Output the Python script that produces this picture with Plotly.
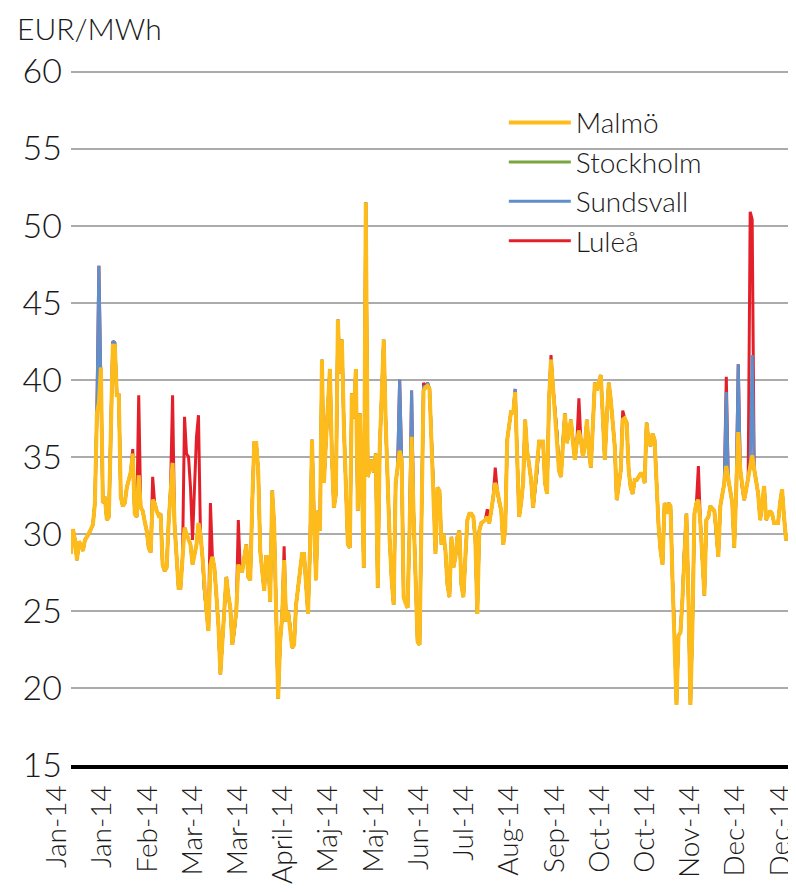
import plotly.graph_objects as go

# Day index 0..364 of 2014
malmo = [
    28.7, 30.3, 29.6, 28.3, 29.5, 29.3, 28.9, 29.6, 29.8, 30.0,
    30.3, 30.6, 32.0, 37.8, 38.5, 40.8, 32.0, 32.4, 30.9, 31.1,
    36.0, 42.2, 42.2, 39.0, 39.0, 32.4, 31.8, 32.0, 33.0, 33.5,
    34.0, 35.2, 31.3, 31.1, 33.8, 31.7, 31.5, 30.8, 30.2, 29.1,
    28.8, 32.2, 32.0, 31.5, 31.2, 31.3, 28.0, 27.6, 27.8, 30.7,
    33.0, 34.6, 30.6, 28.5, 26.5, 26.5, 28.5, 30.4, 30.0, 29.6,
    29.3, 28.0, 28.7, 29.3, 30.7, 30.0, 28.5, 26.3, 25.0, 23.7,
    28.0, 28.5, 27.8, 26.0, 24.1, 20.9, 23.0, 25.2, 27.2, 26.0,
    25.2, 22.8, 23.7, 25.0, 28.0, 27.6, 27.6, 28.5, 29.3, 27.2,
    27.0, 32.0, 35.9, 35.9, 34.1, 28.9, 27.5, 26.3, 28.5, 28.5,
    25.6, 32.8, 30.6, 25.0, 19.3, 23.0, 24.6, 28.3, 24.3, 25.0,
    24.0, 22.6, 22.8, 25.4, 26.5, 27.4, 28.7, 28.7, 27.0, 24.8,
    29.0, 36.1, 31.0, 27.0, 31.5, 30.2, 41.3, 33.3, 36.0, 38.7,
    40.7, 35.0, 31.7, 32.6, 43.9, 40.4, 42.6, 37.0, 33.0, 29.3,
    29.1, 39.1, 37.5, 40.7, 31.5, 37.8, 33.7, 27.8, 51.5, 33.7,
    34.2, 34.8, 34.0, 35.2, 26.5, 35.6, 39.0, 42.6, 37.2, 33.0,
    29.6, 27.0, 25.4, 33.3, 34.3, 35.4, 34.8, 25.9, 25.5, 25.2,
    30.4, 36.3, 31.3, 26.5, 23.0, 22.8, 30.0, 39.3, 39.5, 39.6,
    39.4, 36.3, 32.8, 28.7, 33.0, 32.8, 29.3, 30.0, 28.9, 26.7,
    25.9, 29.8, 27.8, 28.5, 29.8, 30.2, 26.7, 25.9, 28.5, 30.9,
    31.3, 31.3, 31.1, 29.6, 24.8, 30.2, 30.7, 30.8, 30.9, 31.1,
    30.7, 31.5, 32.4, 33.3, 32.8, 32.0, 31.5, 29.3, 30.2, 36.1,
    37.0, 38.0, 37.8, 39.2, 35.0, 31.1, 32.0, 33.3, 37.4, 35.4,
    34.5, 33.5, 31.7, 33.0, 34.1, 36.0, 36.0, 36.0, 33.3, 32.6,
    38.7, 41.3, 39.5, 37.8, 36.5, 34.1, 33.7, 36.0, 37.8, 35.9,
    36.5, 37.4, 35.9, 34.8, 36.0, 36.7, 36.1, 35.0, 35.7, 37.4,
    35.4, 34.3, 37.0, 39.8, 39.3, 39.8, 40.3, 37.6, 34.8, 37.5,
    39.8, 38.7, 37.0, 35.7, 32.2, 33.0, 34.1, 37.4, 37.5, 37.2,
    34.1, 33.0, 32.6, 33.5, 33.5, 33.7, 33.9, 33.9, 33.3, 37.2,
    36.0, 35.7, 36.5, 36.1, 32.8, 30.5, 28.9, 28.0, 32.0, 31.3,
    32.0, 31.8, 27.0, 23.6, 18.9, 23.4, 23.6, 25.8, 29.0, 31.3,
    25.8, 18.9, 24.0, 31.3, 32.0, 32.2, 30.7, 28.0, 26.0, 30.9,
    31.1, 31.8, 31.6, 31.5, 30.2, 28.5, 31.8, 32.5, 33.3, 34.4,
    33.5, 32.8, 32.0, 29.1, 33.0, 36.6, 34.2, 33.0, 32.2, 32.9,
    33.7, 34.4, 35.1, 34.2, 33.5, 32.6, 30.9, 31.8, 33.1, 30.9,
    31.2, 31.5, 31.3, 30.7, 30.7, 30.7, 32.0, 32.9, 31.1, 29.6,
    29.8, 29.8, 29.8, 30.0, 31.2,
]

# Days where the other areas differ from Malmö (day index: price)
stockholm_diff = {}
sundsvall_diff = {14: 47.4, 21: 42.5, 22: 42.4, 165: 40.0, 171: 39.3,
                  177: 39.6, 179: 39.8, 223: 39.4, 329: 39.2, 335: 41.0,
                  342: 41.6}
lulea_diff = {31: 35.5, 34: 39.0, 41: 33.7, 51: 39.0, 57: 37.6, 58: 35.2,
              59: 35.0, 60: 33.0, 61: 29.6, 62: 33.0, 63: 36.3, 64: 37.7,
              70: 32.0, 84: 30.9, 107: 29.2, 177: 39.8, 209: 31.6,
              213: 34.3, 241: 41.6, 255: 38.8, 277: 38.0, 315: 34.4,
              329: 40.2, 335: 41.0, 341: 50.9, 342: 50.4}

tick_labels = ["Jan-14", "Jan-14", "Feb-14", "Mar-14", "Mar-14", "April-14",
               "Maj-14", "Maj-14", "Jun-14", "Jul-14", "Aug-14", "Sep-14",
               "Oct-14", "Oct-14", "Nov-14", "Dec-14", "Dec-14"]

days = list(range(len(malmo)))
stockholm = [stockholm_diff.get(d, v) for d, v in zip(days, malmo)]
sundsvall = [sundsvall_diff.get(d, v) for d, v in zip(days, malmo)]
lulea = [lulea_diff.get(d, v) for d, v in zip(days, sundsvall)]

FONT = "Lato"
TXT = "#1a1a1a"
W = 300
fig = go.Figure()
series = [
    ("Luleå", lulea, "#E3202A", 3),
    ("Sundsvall", sundsvall, "#5E8FCB", 3),
    ("Stockholm", stockholm, "#7BA541", 3),
    ("Malmö", malmo, "#FDBB1C", 4),
]
for name, vals, col, w in series:
    fig.add_trace(go.Scatter(x=days, y=vals, mode="lines", name=name,
                             line=dict(color=col, width=w)))

n = len(tick_labels)
step = (len(malmo) - 1) / (n - 1)
tickvals = [i * step * 0.998 for i in range(n)]

# page has an 8px body margin: figure is sized so it fills the window
PW, PH = 725, 695
ML, MT = 63, 62
fig.update_layout(
    width=788, height=884,
    paper_bgcolor="white", plot_bgcolor="white",
    margin=dict(l=ML, r=0, t=MT, b=884 - MT - PH),
    font=dict(family=FONT, color=TXT, weight=W),
    showlegend=True,
    legend=dict(x=0.597, y=0.96, xanchor="left", yanchor="top",
                traceorder="reversed", bgcolor="rgba(0,0,0,0)",
                font=dict(size=28, family=FONT, color=TXT, weight=W),
                itemwidth=62),
    xaxis=dict(range=[0, len(malmo) - 1], tickmode="array",
               tickvals=tickvals, ticktext=tick_labels, tickangle=-90,
               tickfont=dict(size=28, family=FONT, color=TXT, weight=W),
               showgrid=False, zeroline=False, showline=True,
               linecolor="black", linewidth=4, ticks="",
               ticklabelshift=-14, ticklabelstandoff=5, automargin=False),
    yaxis=dict(range=[15, 60.1], dtick=5, tick0=15,
               tickfont=dict(size=34, family=FONT, color=TXT, weight=W),
               showgrid=True, gridcolor="#ABABAB", gridwidth=2,
               zeroline=False, showline=False, ticks="",
               ticklabelstandoff=8, automargin=False),
)
fig.add_annotation(text="EUR/MWh", xref="paper", yref="paper",
                   x=(8 - ML) / PW, y=1 + (MT - 1) / PH,
                   xanchor="left", yanchor="top", showarrow=False,
                   borderpad=0,
                   font=dict(size=30, family=FONT, color=TXT, weight=W))

fig.write_html("out.html")
